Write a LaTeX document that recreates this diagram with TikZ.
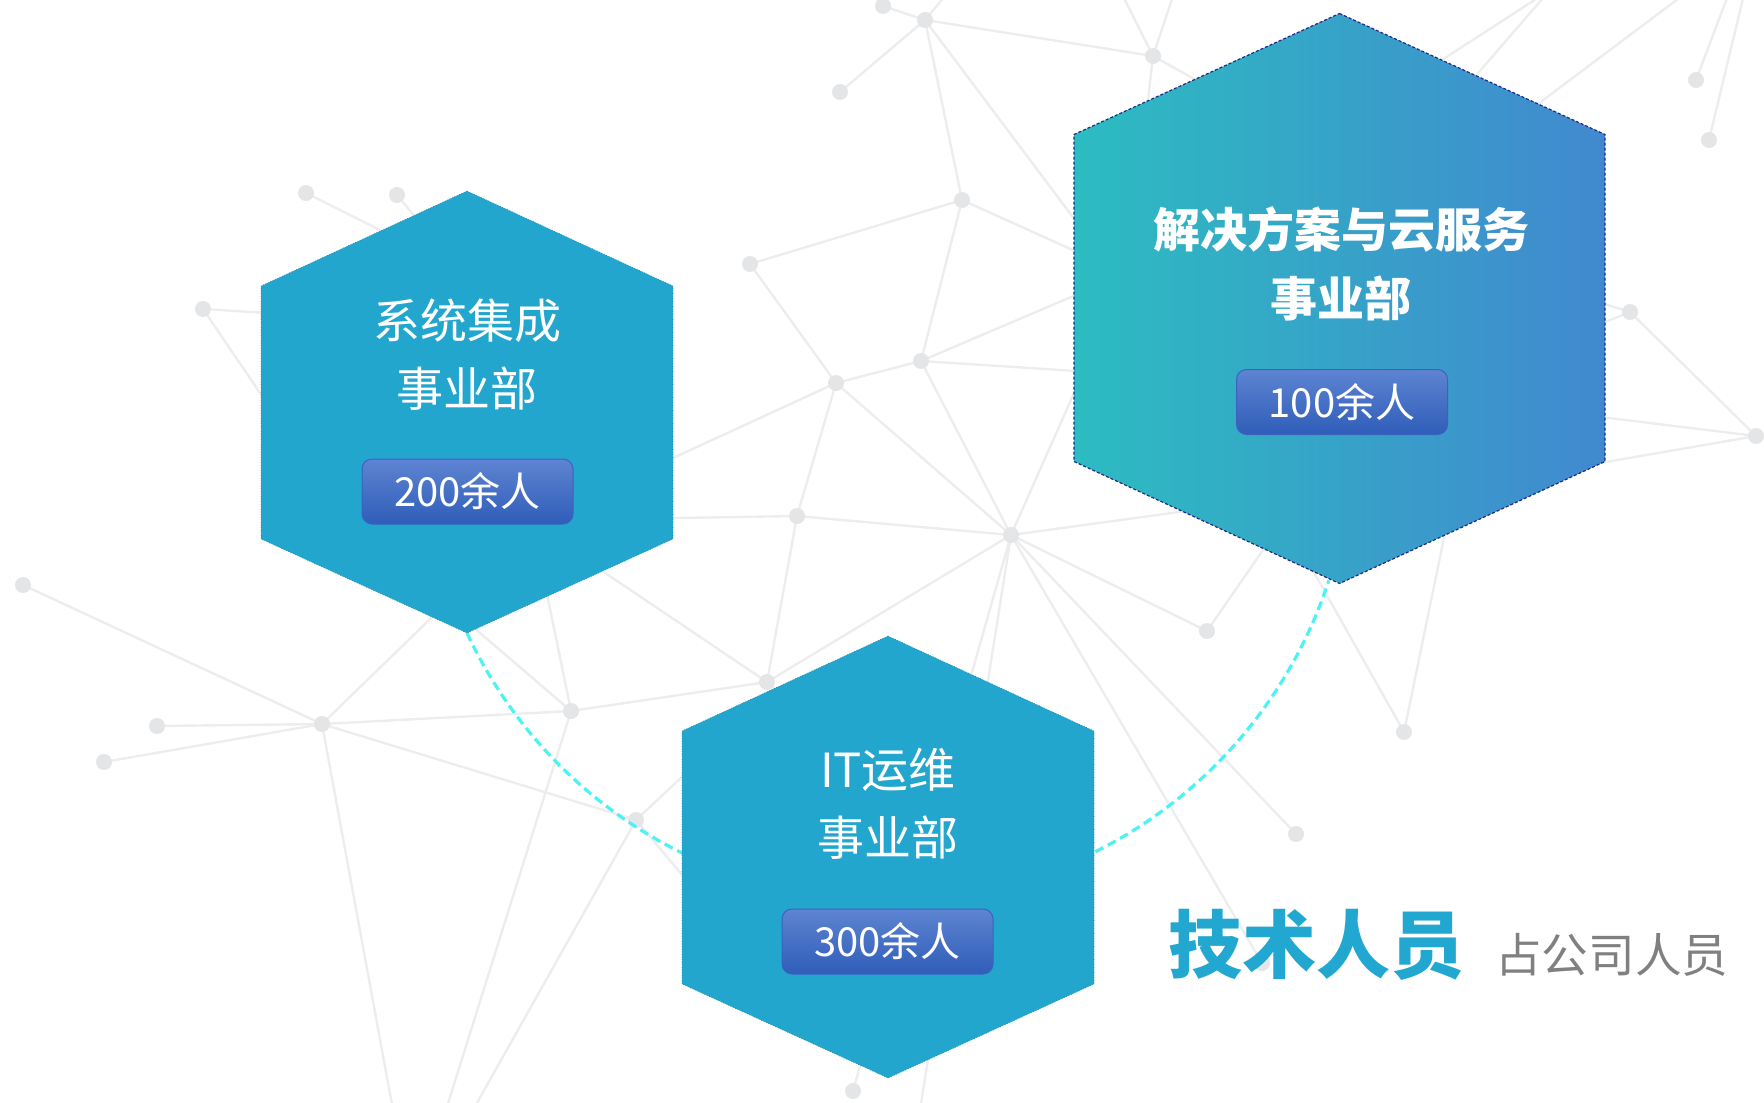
\documentclass[tikz,border=0pt]{standalone}
\usepackage{fontspec}
\newfontfamily\cjk{Noto Sans CJK SC}
\usetikzlibrary{positioning}

\definecolor{hexblue}{HTML}{23A6CE}
\definecolor{hexteal}{HTML}{2CBCC1}
\definecolor{hexsky}{HTML}{4189CF}
\definecolor{hexedge}{HTML}{1F2A86}
\definecolor{badgetop}{HTML}{5E84D2}
\definecolor{badgebot}{HTML}{2F5DB8}
\definecolor{badgeedge}{HTML}{3B62C0}
\definecolor{arccyan}{HTML}{4DF2F5}
\definecolor{netline}{HTML}{EDEDED}
\definecolor{netdot}{HTML}{E4E5E7}
\definecolor{techblue}{HTML}{22A7D0}
\definecolor{sharegray}{HTML}{808080}

\tikzset{
    hexfill/.style={fill=hexblue, draw=hexblue!75!black, line width=0.3pt, densely dotted},
    hexgrad/.style={left color=hexteal, right color=hexsky, draw=hexedge, line width=0.6pt, dash pattern=on 1.5pt off 1pt},
    hextitle/.style={text=white, align=center, inner sep=0pt, font=\cjk\fontsize{23.5}{34}\selectfont},
    countbox/.style={rounded corners=5pt, top color=badgetop, bottom color=badgebot, draw=badgeedge, line width=0.5pt, minimum width=105.5pt, minimum height=32.5pt, inner sep=0pt, text=white, font=\cjk\fontsize{20}{24}\selectfont},
    netedge/.style={draw=netline, line width=1.2pt},
    netdot/.style={fill=netdot},
    arcline/.style={draw=arccyan, line width=1.6pt, dash pattern=on 4.5pt off 2.5pt},
}

\begin{document}
\begin{tikzpicture}[x=0.5pt, y=-0.5pt]
    \useasboundingbox (0,0) rectangle (1764,1102);
    \clip (0,0) rectangle (1764,1102);

    % background network
    \foreach \x/\y [count=\i] in {883/6, 925/20, 840/92, 1153/56, 962/200, 750/264, 836/383, 921/361,
        797/516, 1011/535, 1207/631, 1404/732, 1296/834, 1696/80, 1709/140, 1630/312, 1756/436,
        306/193, 397/195, 203/309, 23/585, 157/726, 104/762, 322/724, 571/711, 767/682, 636/820,
        853/1091, 1262/963,
        1180/360, 950/-10, 1120/-10, 1175/-10, 1250/110, 1140/170, 1380/100, 1420/140, 1550/-10,
        1450/170, 1690/-10, 1730/-10, 1745/-10, 1560/290, 1560/340, 1560/412, 1560/470, 1250/330,
        1200/242, 1200/379, 560/510, 560/520, 1230/505, 1110/312, 1290/511, 1290/530, 1460/460,
        400/240, 430/235, 300/315, 290/437, 460/590, 393/1110, 430/590, 540/560, 446/1110, 700/760,
        720/920, 473/1110, 580/556, 900/800, 920/1110}
        \coordinate (n\i) at (\x,\y);
    \foreach \a/\b in {1/2, 2/3, 2/4, 2/5, 2/30, 2/31, 4/32, 4/33, 4/34, 4/35, 36/38, 37/38, 39/40,
        14/41, 15/42, 16/43, 16/44, 16/17, 17/45, 17/46, 5/6, 5/8, 5/47, 6/7, 7/8, 8/48, 8/49, 8/10,
        7/10, 7/9, 7/50, 9/51, 9/10, 9/26, 10/11, 10/13, 10/29, 10/52, 10/53, 10/26, 10/28, 10/71,
        11/54, 12/55, 12/56, 18/57, 19/58, 20/59, 20/60, 21/24, 22/24, 23/24, 24/61, 24/25, 24/27,
        24/62, 25/63, 25/64, 25/26, 25/65, 27/66, 27/67, 27/68, 69/26, 26/70}
        \draw[netedge] (n\a) -- (n\b);
    \foreach \i in {1,...,29}
        \fill[netdot] (n\i) circle (4pt);

    % hexagon centres
    \coordinate (sys) at (467,412);
    \coordinate (ops) at (888,857);
    \coordinate (sol) at (1339.5,298.5);
    \coordinate (sys-tip) at (467,633);

    % dashed ring
    \draw[arcline] (sys-tip) arc[start angle=155, end angle=18, radius=464];

    % hexagons
    \path[hexfill] (sys) ++(0,-221) -- ++(206,95) -- ++(0,253) -- ++(-206,94)
        -- ++(-206,-94) -- ++(0,-253) -- cycle;
    \path[hexfill] (ops) ++(0,-221) -- ++(206,95) -- ++(0,253) -- ++(-206,94)
        -- ++(-206,-94) -- ++(0,-253) -- cycle;
    \path[hexgrad] (sol) ++(0,-285) -- ++(265.5,121) -- ++(0,327) -- ++(-265.5,122)
        -- ++(-265.5,-122) -- ++(0,-327) -- cycle;

    % names and head counts
    \node[hextitle] (sys-name) at (467,355) {系统集成\\事业部};
    \node[hextitle] (ops-name) at (888,804) {IT运维\\事业部};
    \node[hextitle, font=\cjk\bfseries\fontsize{23.5}{34.25}\selectfont] (sol-name) at (1341,264) {解决方案与云服务\\事业部};
    \node[countbox] (sys-count) at (467.5,491.5) {200余人};
    \node[countbox] (ops-count) at (887.5,941.5) {300余人};
    \node[countbox] (sol-count) at (1342,402) {100余人};

    % caption
    \node[anchor=base west, inner sep=0pt, text=techblue, font=\cjk\bfseries\fontsize{37}{40}\selectfont] (tech) at (1168,972) {技术人员};
    \node[anchor=base west, inner sep=0pt, text=sharegray, font=\cjk\fontsize{23.3}{28}\selectfont] (share) at ([xshift=15pt]tech.base east) {占公司人员};
\end{tikzpicture}
\end{document}
